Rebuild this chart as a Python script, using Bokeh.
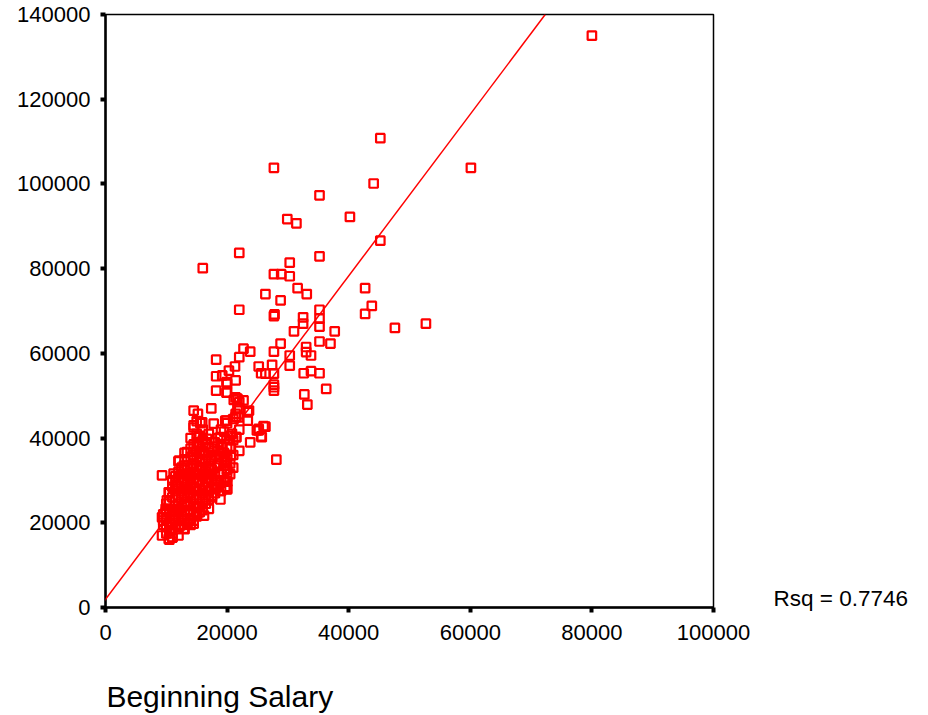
from bokeh.plotting import figure
from bokeh.models import (Slope, FixedTicker, Range1d, NumeralTickFormatter,
                          LinearAxis)
from bokeh.embed import file_html
from bokeh.resources import INLINE

# ---- data (in dollars) ----
begin_salary = [
    80000, 45200, 27700, 60100, 44100, 35200, 29900, 31400, 40200, 45200,
    22000, 35200, 16000, 30300, 27700, 28900, 30300, 31600, 33100, 26300,
    28800, 42700, 43800, 42700, 47600, 52700, 22000, 27700, 27800, 35200,
    32500, 35200, 35200, 32500, 31000, 37700, 35200, 37000, 28800, 22700,
    23800, 27700, 33000, 33000, 33800, 30300, 30300, 22000, 18200, 25200,
    27400, 21300, 20300, 25600, 27700, 26300, 18200, 19200, 32600, 33800,
    35200, 21400, 19900, 20000, 27700, 27700, 27700, 36300, 18200, 19900,
    21400, 32700, 33200, 17400, 22000, 22000, 22700, 21100, 14500, 15200,
    21400, 21400, 23400, 23400, 19900, 17800, 15600, 14500, 26300, 25200,
    25200, 25600, 23800, 28100,
    21700, 21900, 23600, 15900, 19700, 24900, 21500, 18900, 15300, 16700,
    15300, 17000, 19200, 13400, 15600, 18100, 20600, 12100, 14500, 17300,
    19700, 12900, 15600, 9300, 11200, 13700, 16200, 18600, 20000,
    16700, 20000, 20000, 18900, 17500, 17000, 15100, 14500, 12900, 11000,
    10400, 9300, 9300, 10100, 10400, 11800, 12900, 13400, 14500, 15900,
    12900, 14000, 16200, 18100, 9900, 11200, 12300, 10700, 14000, 11800,
    15300, 9900, 20000, 21700, 26000, 25700, 20800, 20600, 20000, 20000,
    19700, 19700,
    9500, 9500, 9500,
    10000, 10000, 10000, 10000, 10000,
    10500, 10500, 10500, 10500, 10500, 10500,
    11000, 11000, 11000, 11000, 11000, 11000, 11000, 11000,
    11500, 11500, 11500, 11500, 11500, 11500, 11500,
    12000, 12000, 12000, 12000, 12000, 12000, 12000, 12000, 12000, 12000,
    12500, 12500, 12500, 12500, 12500, 12500, 12500, 12500,
    13000, 13000, 13000, 13000, 13000, 13000, 13000, 13000, 13000, 13000,
    13500, 13500, 13500, 13500, 13500, 13500, 13500, 13500,
    14000, 14000, 14000, 14000, 14000, 14000, 14000, 14000, 14000, 14000, 14000,
    14500, 14500, 14500, 14500, 14500, 14500, 14500, 14500, 14500, 14500, 14500,
    15000, 15000, 15000, 15000, 15000, 15000, 15000, 15000, 15000, 15000, 15000, 15000,
    15500, 15500, 15500, 15500, 15500, 15500, 15500, 15500, 15500, 15500,
    16000, 16000, 16000, 16000, 16000, 16000, 16000, 16000, 16000, 16000,
    16500, 16500, 16500, 16500, 16500, 16500, 16500, 16500,
    17000, 17000, 17000, 17000, 17000, 17000, 17000, 17000,
    17500, 17500, 17500, 17500, 17500, 17500,
    18000, 18000, 18000, 18000, 18000, 18000,
    18500, 18500, 18500, 18500, 18500,
    19000, 19000, 19000, 19000, 19000, 19000,
    19500, 19500, 19500, 19500,
    20000, 20000, 20000, 20000, 20000, 20000,
    20500, 20500, 20500, 20500,
    21000, 21000, 21000, 21000,
    21500, 21500,
    22000, 22000,
]
current_salary = [
    135000, 110800, 103800, 103800, 100100, 97300, 91700, 90700, 92200, 86600,
    83700, 82900, 80100, 81400, 78700, 78700, 78200, 75400, 74000, 74000,
    72500, 75400, 71200, 69300, 66000, 67000, 70300, 68800, 69200, 70300,
    68500, 68200, 66300, 67000, 65200, 65200, 62800, 62300, 62300, 61100,
    60400, 60400, 61500, 60300, 59500, 59500, 57100, 59100, 58500, 56900,
    57300, 56900, 55900, 55300, 55200, 55200, 54600, 54800, 55300, 55800,
    55300, 53600, 53200, 52800, 52600, 52000, 51200, 51600, 51200, 50700,
    49600, 50300, 47900, 47000, 48500, 47000, 48900, 49000, 46500, 45700,
    45700, 45000, 46100, 44100, 44100, 43400, 43500, 43000, 42700, 42200,
    41800, 40400, 39000, 34900,
    46900, 44900, 46500, 43700, 44100, 41800, 40200, 40200, 40200, 39800,
    38400, 37800, 37800, 36700, 36300, 35900, 35900, 34700, 34700, 34700,
    34300, 33500, 33100, 31200, 31600, 31600, 31600, 31900, 30800,
    30400, 29700, 27900, 25500, 26400, 23300, 22100, 19800, 18600, 16600,
    16200, 17000, 21300, 25300, 27200, 28800, 26400, 24100, 25700, 27600,
    29600, 28000, 21700, 28000, 23300, 20900, 19400, 18200, 20900, 23300,
    23700, 22500, 50800, 49300, 42800, 40200, 41000, 37800, 35500, 32700,
    30000, 28500,
    19500, 20500, 22000,
    17500, 19000, 21000, 23000, 24500,
    16000, 18000, 20000, 22500, 25000, 27000,
    16500, 17500, 19500, 21500, 23000, 26000, 28500, 30000,
    18500, 20500, 22000, 24000, 27500, 29000, 31000,
    17000, 19000, 21000, 22500, 24500, 26500, 28000, 30500, 32000, 34500,
    19500, 21500, 23000, 25500, 27000, 29500, 31500, 33000,
    18500, 20500, 22000, 24000, 26000, 28500, 30000, 32500, 35000, 36500,
    20000, 22500, 24500, 26500, 28000, 29500, 31000, 33500,
    19500, 21000, 23000, 25000, 27000, 29000, 31000, 33000, 35500, 37500, 40000,
    20500, 22000, 24500, 26000, 28500, 30500, 32000, 34000, 36000, 38500, 42500,
    21500, 23500, 25500, 27500, 29500, 31500, 33500, 35500, 37000, 39000, 41000, 44000,
    22500, 24000, 26500, 28000, 30000, 32500, 34500, 36500, 38000, 40500,
    23000, 25000, 27000, 29000, 31000, 33000, 35000, 37000, 39500, 42000,
    24500, 26000, 28500, 30500, 32000, 34500, 36000, 38500,
    25500, 27500, 29500, 31500, 33500, 36500, 38000, 41000,
    26000, 28000, 30000, 32500, 35000, 37500,
    27000, 29000, 31500, 33000, 36000, 39000,
    28500, 30000, 34000, 37000, 40000,
    27500, 29500, 32000, 35500, 38500, 42000,
    30000, 33500, 36500, 41500,
    28000, 29700, 32500, 35000, 38000, 43500,
    31500, 34000, 37500, 40500,
    33000, 36000, 39500, 44500,
    40200, 45000,
    37000, 42000,
]

fit_intercept = 1928.2
fit_slope = 1.909
r_squared = 0.7746
rsq_label_y = 2100

x_ticks = [0, 20000, 40000, 60000, 80000, 100000]
y_ticks = [0, 20000, 40000, 60000, 80000, 100000, 120000, 140000]
x_title = "Beginning Salary"
x_title_center = 18800

FONT = "Liberation Sans"

p = figure(width=912, height=724, output_backend="svg", toolbar_location=None,
           x_range=Range1d(0, 100000), y_range=Range1d(0, 140000),
           min_border_left=105, min_border_right=199, min_border_top=14,
           min_border_bottom=117)
p.grid.visible = False
p.outline_line_color = "black"
p.outline_line_width = 1.5
p.background_fill_color = "white"
p.border_fill_color = "white"

p.xaxis.ticker = FixedTicker(ticks=x_ticks, minor_ticks=[])
p.yaxis.ticker = FixedTicker(ticks=y_ticks, minor_ticks=[])
p.axis.formatter = NumeralTickFormatter(format="0")
p.axis.axis_line_color = "black"
p.axis.axis_line_width = 2.5
p.axis.major_tick_line_color = "black"
p.axis.major_tick_line_width = 4
p.axis.major_tick_in = 0
p.axis.major_tick_out = 5
p.axis.minor_tick_line_color = None
p.axis.major_label_text_font = FONT
p.axis.major_label_text_font_size = "22px"
p.axis.major_label_text_color = "black"
p.xaxis.major_label_standoff = 12
p.yaxis.major_label_standoff = 10

# Rsq text shown as a label-only axis on the right
rsq_axis = LinearAxis(ticker=FixedTicker(ticks=[rsq_label_y], minor_ticks=[]),
                      major_label_overrides={rsq_label_y: "Rsq = %.4f" % r_squared},
                      axis_line_color=None, major_tick_line_color=None,
                      minor_tick_line_color=None, major_tick_out=0, major_tick_in=0,
                      major_label_standoff=60, major_label_text_font=FONT,
                      major_label_text_font_size="22.5px",
                      major_label_text_color="black")
p.add_layout(rsq_axis, "right")

# x title as a label-only axis stacked below the tick axis
title_axis = LinearAxis(ticker=FixedTicker(ticks=[x_title_center], minor_ticks=[]),
                        major_label_overrides={x_title_center: x_title},
                        axis_line_color=None, major_tick_line_color=None,
                        minor_tick_line_color=None, major_tick_out=0, major_tick_in=0,
                        major_label_standoff=37, major_label_text_font=FONT,
                        major_label_text_font_size="30px",
                        major_label_text_color="black")
p.add_layout(title_axis, "below")

p.scatter(begin_salary, current_salary, marker="square", size=8.5,
          fill_color=None, line_color="red", line_width=2.2)

p.add_layout(Slope(gradient=fit_slope, y_intercept=fit_intercept,
                   line_color="red", line_width=1.5))

open("out.html", "w").write(file_html(p, INLINE))
